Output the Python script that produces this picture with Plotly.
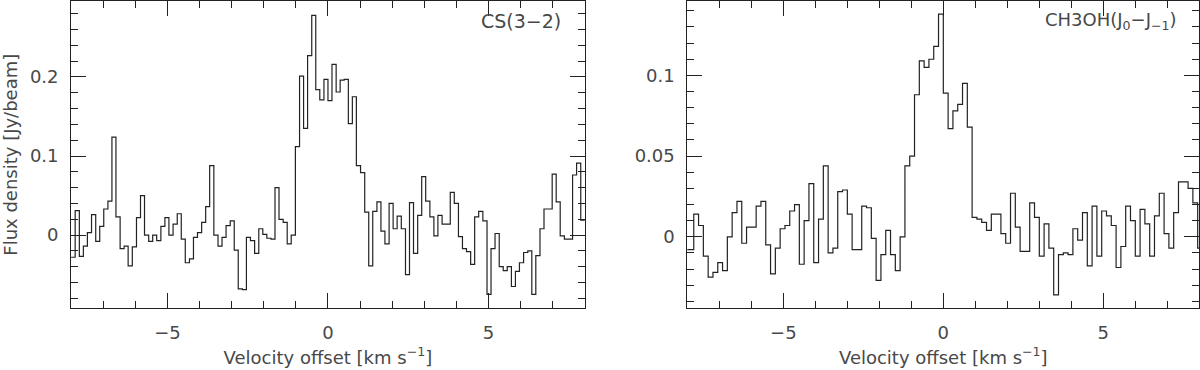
import plotly.graph_objects as go

# CS(3-2) spectrum: channel centre velocities (km/s) and flux density (Jy/beam)
cs_velocity = [
    -7.94, -7.81, -7.68, -7.56, -7.43, -7.30, -7.17, -7.05, -6.92, -6.79,
    -6.67, -6.54, -6.41, -6.29, -6.16, -6.03, -5.90, -5.78, -5.65, -5.52,
    -5.40, -5.27, -5.14, -5.02, -4.89, -4.76, -4.63, -4.51, -4.38, -4.25,
    -4.13, -4.00, -3.87, -3.75, -3.62, -3.49, -3.36, -3.24, -3.11, -2.98,
    -2.86, -2.73, -2.60, -2.48, -2.35, -2.22, -2.09, -1.97, -1.84, -1.71,
    -1.59, -1.46, -1.33, -1.21, -1.08, -0.95, -0.82, -0.70, -0.57, -0.44,
    -0.32, -0.19, -0.06, 0.06, 0.19, 0.32, 0.44, 0.57, 0.70, 0.82,
    0.95, 1.08, 1.21, 1.33, 1.46, 1.59, 1.71, 1.84, 1.97, 2.09,
    2.22, 2.35, 2.48, 2.60, 2.73, 2.86, 2.98, 3.11, 3.24, 3.36,
    3.49, 3.62, 3.75, 3.87, 4.00, 4.13, 4.25, 4.38, 4.51, 4.63,
    4.76, 4.89, 5.02, 5.14, 5.27, 5.40, 5.52, 5.65, 5.78, 5.90,
    6.03, 6.16, 6.29, 6.41, 6.54, 6.67, 6.79, 6.92, 7.05, 7.17,
    7.30, 7.43, 7.56, 7.68, 7.81, 7.94,
]
cs_flux = [
    -0.028, 0.031, -0.027, -0.014, 0.003, 0.026, -0.008, 0.011, 0.033, 0.043,
    0.124, 0.023, -0.017, -0.014, -0.039, -0.015, 0.022, 0.050, 0.000, -0.008,
    0.000, -0.007, 0.011, 0.022, 0.000, 0.014, 0.027, -0.005, -0.035, -0.030,
    -0.003, 0.003, 0.016, 0.036, 0.088, 0.000, -0.014, -0.003, 0.012, 0.018,
    -0.019, -0.068, -0.069, -0.003, -0.007, -0.023, 0.008, 0.001, -0.004, -0.005,
    0.060, 0.020, 0.016, -0.011, 0.000, 0.112, 0.201, 0.135, 0.227, 0.278,
    0.184, 0.171, 0.197, 0.170, 0.216, 0.181, 0.196, 0.197, 0.141, 0.175,
    0.088, 0.079, 0.029, -0.039, 0.030, 0.042, 0.005, -0.011, 0.040, 0.008,
    0.024, 0.008, -0.050, 0.041, -0.023, 0.025, 0.074, 0.043, 0.023, -0.001,
    0.025, 0.014, 0.014, 0.054, 0.040, -0.002, -0.017, -0.021, -0.037, 0.023,
    0.030, 0.018, -0.075, -0.017, 0.002, -0.040, -0.045, -0.040, -0.065, -0.046,
    -0.035, -0.022, -0.020, -0.075, -0.026, 0.008, 0.033, 0.033, 0.077, 0.042,
    -0.001, -0.005, -0.005, 0.076, 0.091, 0.019,
]

# CH3OH(J0-J-1) spectrum
ch3oh_velocity = [
    -8.025, -7.875, -7.725, -7.575, -7.425, -7.275, -7.125, -6.975, -6.825, -6.675,
    -6.525, -6.375, -6.225, -6.075, -5.925, -5.775, -5.625, -5.475, -5.325, -5.175,
    -5.025, -4.875, -4.725, -4.575, -4.425, -4.275, -4.125, -3.975, -3.825, -3.675,
    -3.525, -3.375, -3.225, -3.075, -2.925, -2.775, -2.625, -2.475, -2.325, -2.175,
    -2.025, -1.875, -1.725, -1.575, -1.425, -1.275, -1.125, -0.975, -0.825, -0.675,
    -0.525, -0.375, -0.225, -0.075, 0.075, 0.225, 0.375, 0.525, 0.675, 0.825,
    0.975, 1.125, 1.275, 1.425, 1.575, 1.725, 1.875, 2.025, 2.175, 2.325,
    2.475, 2.625, 2.775, 2.925, 3.075, 3.225, 3.375, 3.525, 3.675, 3.825,
    3.975, 4.125, 4.275, 4.425, 4.575, 4.725, 4.875, 5.025, 5.175, 5.325,
    5.475, 5.625, 5.775, 5.925, 6.075, 6.225, 6.375, 6.525, 6.675, 6.825,
    6.975, 7.125, 7.275, 7.425, 7.575, 7.725, 7.875, 8.025,
]
ch3oh_flux = [
    -0.008, -0.008, 0.014, 0.007, -0.012, -0.025, -0.022, -0.016, -0.021, 0.000,
    0.015, 0.022, -0.004, 0.006, 0.006, 0.019, 0.022, -0.005, -0.023, -0.007,
    0.005, 0.007, 0.016, 0.020, -0.017, 0.010, 0.033, -0.016, 0.011, 0.044,
    -0.010, -0.007, 0.028, 0.029, 0.014, -0.008, -0.008, 0.019, 0.018, -0.001,
    -0.027, -0.011, 0.004, -0.011, -0.021, 0.000, 0.044, 0.050, 0.088, 0.109,
    0.105, 0.110, 0.118, 0.138, 0.089, 0.067, 0.078, 0.082, 0.095, 0.068,
    0.012, 0.011, 0.009, 0.004, 0.014, 0.014, 0.002, -0.004, 0.027, 0.006,
    -0.009, -0.009, 0.021, 0.012, -0.012, 0.008, -0.007, -0.036, -0.011, -0.010,
    -0.011, 0.005, -0.002, 0.015, -0.018, 0.019, -0.012, 0.016, 0.013, 0.007,
    -0.019, -0.006, 0.019, 0.010, -0.012, 0.017, 0.008, -0.012, 0.013, 0.027,
    0.002, -0.007, 0.015, 0.034, 0.034, 0.030, 0.021, -0.007,
]

assert len(cs_velocity) == len(cs_flux)
assert len(ch3oh_velocity) == len(ch3oh_flux)

INK = '#222222'
TXT = '#484848'
FONT = 'DejaVu Sans'


def step_xy(v, f):
    # pad half a channel at each end so the histogram reaches the frame
    half = (v[1] - v[0]) / 2
    return [v[0] - half] + list(v) + [v[-1] + half], [f[0]] + list(f) + [f[-1]]


def frame_axis(**kw):
    ax = dict(
        showline=True, linecolor=INK, linewidth=1, mirror='allticks',
        ticks='inside', ticklen=15, tickwidth=1, tickcolor=INK,
        showgrid=False, zeroline=False,
        tickfont=dict(family=FONT, size=18, color=TXT),
        minor=dict(ticks='inside', ticklen=7, tickwidth=1, tickcolor=INK, showgrid=False),
    )
    ax.update(kw)
    return ax


fig = go.Figure()

x, y = step_xy(cs_velocity, cs_flux)
fig.add_trace(go.Scatter(x=x, y=y, mode='lines', line=dict(color=INK, width=1.2, shape='hvh'),
                         xaxis='x', yaxis='y'))
x, y = step_xy(ch3oh_velocity, ch3oh_flux)
fig.add_trace(go.Scatter(x=x, y=y, mode='lines', line=dict(color=INK, width=1.2, shape='hvh'),
                         xaxis='x2', yaxis='y2'))

xtitle = 'Velocity offset [km s<sup>\u22121</sup>]'
title_font = dict(family=FONT, size=18, color=TXT)
ydom = [0.1676, 0.996]

fig.update_layout(
    width=1200, height=370,
    margin=dict(l=0, r=0, t=0, b=0),
    plot_bgcolor='white', paper_bgcolor='white',
    showlegend=False,
    xaxis=frame_axis(domain=[0.0593, 0.4873], range=[-8, 8], tick0=0, dtick=5,
                     minor_dtick=1, anchor='y', ticklabelstandoff=8,
                     title=dict(text=xtitle, font=title_font, standoff=9)),
    yaxis=frame_axis(domain=ydom, range=[-0.0922, 0.2955], tick0=0, dtick=0.1,
                     minor_dtick=0.02, anchor='x', ticklabelstandoff=8,
                     title=dict(text='Flux density [Jy/beam]', font=title_font, standoff=10)),
    xaxis2=frame_axis(domain=[0.5728, 0.9994], range=[-8, 8], tick0=0, dtick=5,
                      minor_dtick=1, anchor='y2', ticklabelstandoff=8,
                      title=dict(text=xtitle, font=title_font, standoff=9)),
    yaxis2=frame_axis(domain=ydom, range=[-0.0441, 0.1458], tick0=0, dtick=0.05,
                      minor_dtick=0.01, anchor='x2', ticklabelstandoff=8),
)

fig.add_annotation(xref='x domain', yref='y domain', x=0.958, y=0.935, xanchor='right', yanchor='middle',
                   text='CS(3\u22122)', showarrow=False, font=dict(family=FONT, size=19, color=TXT))
fig.add_annotation(xref='x2 domain', yref='y2 domain', x=0.960, y=0.937, xanchor='right', yanchor='middle',
                   text='CH3OH(J<sub>0</sub>\u2212J<sub>\u22121</sub>)', showarrow=False,
                   font=dict(family=FONT, size=18, color=TXT))

# the page body has a default 8px margin; drop it so the figure fills the window exactly
fig.write_html("out.html", config={'displayModeBar': False},
               post_script="document.body.style.margin='0';")
